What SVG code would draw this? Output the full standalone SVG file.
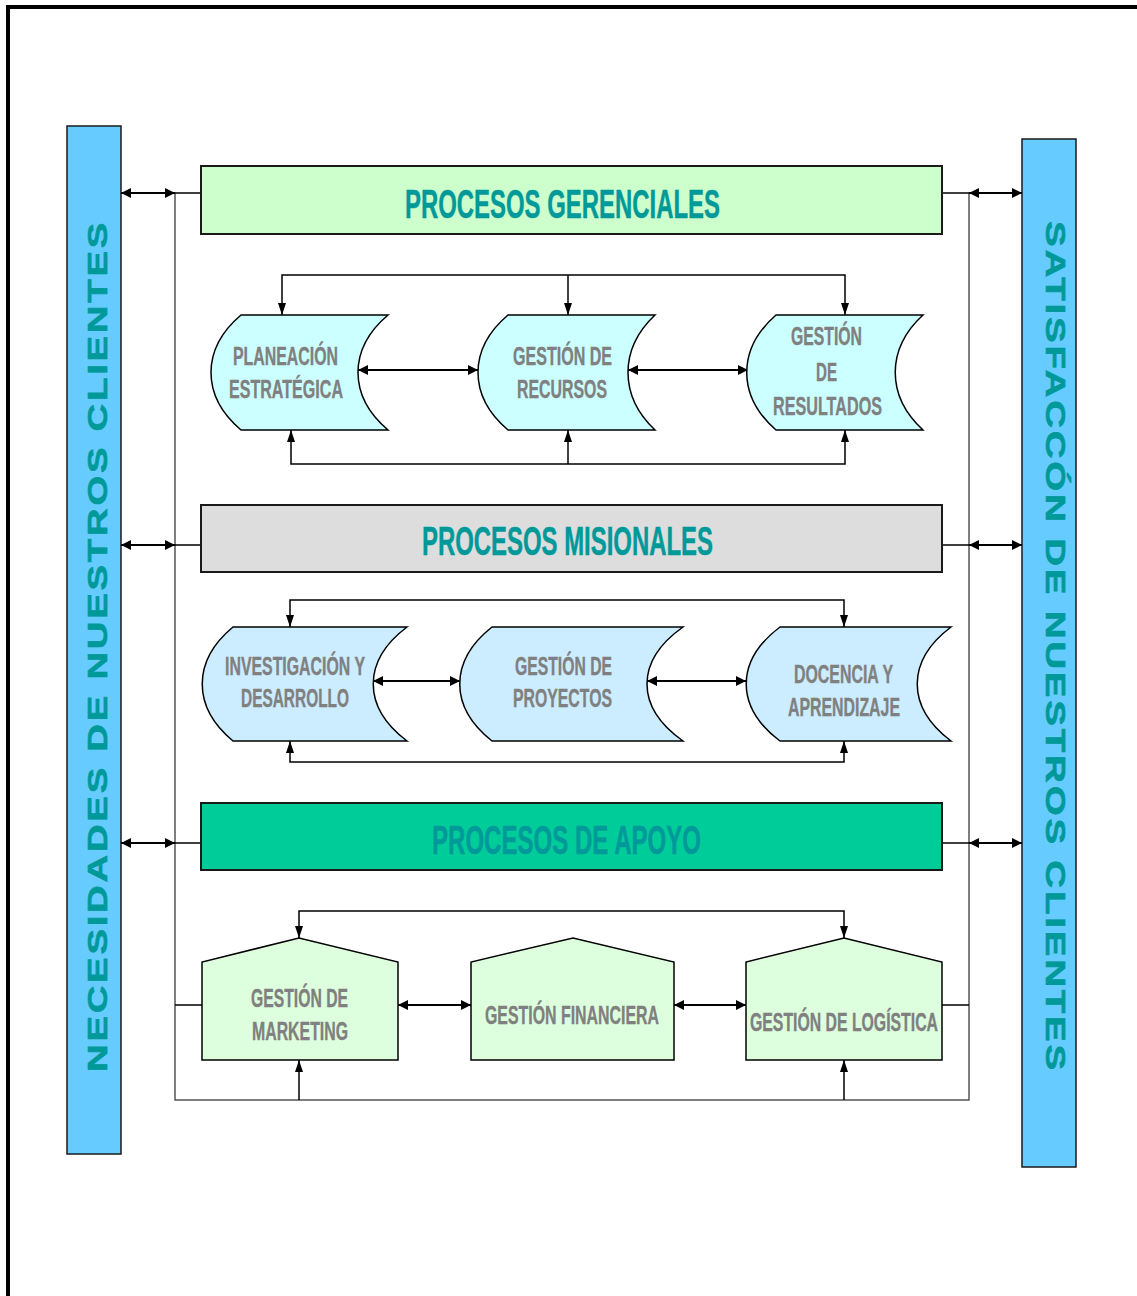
<svg xmlns="http://www.w3.org/2000/svg" width="1137" height="1296" viewBox="0 0 1137 1296">
  <defs>
    <style>
      .frame { fill: none; stroke: #000; stroke-width: 4; }
      .bar { fill: #66CCFF; stroke: #1a1a1a; stroke-width: 1.5; }
      .band { stroke: #1a1a1a; stroke-width: 2; }
      .side { font-family: "Liberation Sans", Arial, sans-serif; font-weight: bold; font-size: 28px; fill: #009999; stroke: #009999; stroke-width: 0.6; letter-spacing: 2px; }
      .title { font-family: "Liberation Sans Narrow", "Liberation Sans", Arial, sans-serif; font-weight: bold; font-size: 41px; fill: #009999; stroke: #009999; stroke-width: 0.5; }
      .lbl { font-family: "Liberation Sans Narrow", "Liberation Sans", Arial, sans-serif; font-weight: bold; font-size: 25px; fill: #808080; stroke: #808080; stroke-width: 0.35; }
      .store { stroke: #000; stroke-width: 1.5; }
      .house { fill: #DDFFDD; stroke: #000; stroke-width: 1.5; }
      .rail { fill: none; stroke: #555; stroke-width: 1.5; }
      .stub { fill: none; stroke: #000; stroke-width: 1.5; }
      .dbl { fill: none; stroke: #000; stroke-width: 2; marker-start: url(#ah); marker-end: url(#ah); }
      .loop { fill: none; stroke: #000; stroke-width: 1.5; marker-start: url(#av); marker-end: url(#av); }
      .one { fill: none; stroke: #000; stroke-width: 1.5; marker-end: url(#av); }
    </style>
    <marker id="ah" viewBox="0 0 10 10" refX="10" refY="5" markerWidth="10" markerHeight="10" markerUnits="userSpaceOnUse" orient="auto-start-reverse">
      <path d="M0,0 L10,5 L0,10 z" fill="#000"/>
    </marker>
    <marker id="av" viewBox="0 0 12 8" refX="12" refY="4" markerWidth="12" markerHeight="8" markerUnits="userSpaceOnUse" orient="auto-start-reverse">
      <path d="M0,0 L12,4 L0,8 z" fill="#000"/>
    </marker>
  </defs>

  <rect width="1137" height="1296" fill="#fff"/>
  <path class="frame" d="M8,1296 V7 H1137"/>

  <!-- side bars -->
  <g id="necesidades">
    <rect class="bar" x="67" y="126" width="54" height="1028"/>
    <text class="side" transform="translate(107,1072) rotate(-90)" x="0" y="0" textLength="852" lengthAdjust="spacingAndGlyphs">NECESIDADES DE NUESTROS CLIENTES</text>
  </g>
  <g id="satisfaccion">
    <rect class="bar" x="1022" y="139" width="54" height="1028"/>
    <text class="side" transform="translate(1046,221) rotate(90)" x="0" y="0" textLength="852" lengthAdjust="spacingAndGlyphs">SATISFACCÓN DE NUESTROS CLIENTES</text>
  </g>

  <!-- connectors -->
  <g id="connectors">
    <path class="rail" d="M175,193 V1100 H969 V193"/>
    <path class="stub" d="M175,193 H201 M175,545 H201 M175,843 H201 M942,193 H969 M942,545 H969 M942,843 H969 M175,1005 H202 M942,1005 H969"/>
    <line class="dbl" x1="121" y1="193" x2="175" y2="193"/>
    <line class="dbl" x1="121" y1="545" x2="175" y2="545"/>
    <line class="dbl" x1="121" y1="843" x2="175" y2="843"/>
    <line class="dbl" x1="969" y1="193" x2="1022" y2="193"/>
    <line class="dbl" x1="969" y1="545" x2="1022" y2="545"/>
    <line class="dbl" x1="969" y1="843" x2="1022" y2="843"/>

    <!-- gerenciales -->
    <polyline class="loop" points="282,315 282,275 845,275 845,315"/>
    <line class="one" x1="568" y1="275" x2="568" y2="315"/>
    <polyline class="loop" points="291,430 291,464 845,464 845,430"/>
    <line class="one" x1="568" y1="464" x2="568" y2="430"/>
    <line class="dbl" x1="358" y1="370" x2="478" y2="370"/>
    <line class="dbl" x1="628" y1="370" x2="748" y2="370"/>

    <!-- misionales -->
    <polyline class="loop" points="290,627 290,600 844,600 844,627"/>
    <polyline class="loop" points="290,741 290,762 844,762 844,741"/>
    <line class="dbl" x1="373" y1="681" x2="460" y2="681"/>
    <line class="dbl" x1="647" y1="681" x2="746" y2="681"/>

    <!-- apoyo -->
    <polyline class="loop" points="299,938 299,911 844,911 844,938"/>
    <line class="one" x1="299" y1="1100" x2="299" y2="1060"/>
    <line class="one" x1="844" y1="1100" x2="844" y2="1060"/>
    <line class="dbl" x1="398" y1="1005" x2="471" y2="1005"/>
    <line class="dbl" x1="674" y1="1005" x2="746" y2="1005"/>
  </g>

  <!-- process bands -->
  <g id="gerenciales">
    <rect class="band" x="201" y="166" width="741" height="68" fill="#CCFFCC"/>
    <text class="title" x="405" y="218" textLength="315" lengthAdjust="spacingAndGlyphs">PROCESOS GERENCIALES</text>
  </g>
  <g id="misionales">
    <rect class="band" x="201" y="505" width="741" height="67" fill="#DDDDDD"/>
    <text class="title" x="422" y="555" textLength="291" lengthAdjust="spacingAndGlyphs">PROCESOS MISIONALES</text>
  </g>
  <g id="apoyo">
    <rect class="band" x="201" y="803" width="741" height="67" fill="#00CC99"/>
    <text class="title" x="432" y="854" textLength="269" lengthAdjust="spacingAndGlyphs">PROCESOS DE APOYO</text>
  </g>

  <!-- management processes -->
  <g id="planeacion">
    <path class="store" fill="#CCFFFF" d="M241,315 H388 C348,349 348,396 388,430 H241 C201,396 201,349 241,315 Z"/>
    <text class="lbl" x="233" y="365" textLength="105" lengthAdjust="spacingAndGlyphs">PLANEACIÓN</text>
    <text class="lbl" x="229" y="398" textLength="114" lengthAdjust="spacingAndGlyphs">ESTRATÉGICA</text>
  </g>
  <g id="recursos">
    <path class="store" fill="#CCFFFF" d="M508,315 H655 C619,349 619,396 655,430 H508 C468,396 468,349 508,315 Z"/>
    <text class="lbl" x="513" y="365" textLength="99" lengthAdjust="spacingAndGlyphs">GESTIÓN DE</text>
    <text class="lbl" x="517" y="398" textLength="90" lengthAdjust="spacingAndGlyphs">RECURSOS</text>
  </g>
  <g id="resultados">
    <path class="store" fill="#CCFFFF" d="M776,315 H923 C886,349 886,396 923,430 H776 C737,396 737,349 776,315 Z"/>
    <text class="lbl" x="791" y="345" textLength="71" lengthAdjust="spacingAndGlyphs">GESTIÓN</text>
    <text class="lbl" x="816" y="381" textLength="21" lengthAdjust="spacingAndGlyphs">DE</text>
    <text class="lbl" x="773" y="415" textLength="109" lengthAdjust="spacingAndGlyphs">RESULTADOS</text>
  </g>

  <!-- mission processes -->
  <g id="investigacion">
    <path class="store" fill="#CCECFF" d="M233,627 H407 C362,661 362,707 407,741 H233 C192,707 192,661 233,627 Z"/>
    <text class="lbl" x="225" y="675" textLength="140" lengthAdjust="spacingAndGlyphs">INVESTIGACIÓN Y</text>
    <text class="lbl" x="241" y="707" textLength="108" lengthAdjust="spacingAndGlyphs">DESARROLLO</text>
  </g>
  <g id="proyectos">
    <path class="store" fill="#CCECFF" d="M492,627 H683 C635,661 635,707 683,741 H492 C449,707 449,661 492,627 Z"/>
    <text class="lbl" x="515" y="675" textLength="97" lengthAdjust="spacingAndGlyphs">GESTIÓN DE</text>
    <text class="lbl" x="513" y="707" textLength="99" lengthAdjust="spacingAndGlyphs">PROYECTOS</text>
  </g>
  <g id="docencia">
    <path class="store" fill="#CCECFF" d="M780,627 H951 C906,661 906,707 951,741 H780 C735,707 735,661 780,627 Z"/>
    <text class="lbl" x="794" y="683" textLength="99" lengthAdjust="spacingAndGlyphs">DOCENCIA Y</text>
    <text class="lbl" x="788" y="716" textLength="112" lengthAdjust="spacingAndGlyphs">APRENDIZAJE</text>
  </g>

  <!-- support processes -->
  <g id="marketing">
    <path class="house" d="M202,1060 V962 L299,938 L398,962 V1060 Z"/>
    <text class="lbl" x="251" y="1007" textLength="97" lengthAdjust="spacingAndGlyphs">GESTIÓN DE</text>
    <text class="lbl" x="252" y="1040" textLength="96" lengthAdjust="spacingAndGlyphs">MARKETING</text>
  </g>
  <g id="financiera">
    <path class="house" d="M471,1060 V962 L573,938 L674,962 V1060 Z"/>
    <text class="lbl" x="485" y="1024" textLength="174" lengthAdjust="spacingAndGlyphs">GESTIÓN FINANCIERA</text>
  </g>
  <g id="logistica">
    <path class="house" d="M746,1060 V962 L844,938 L942,962 V1060 Z"/>
    <text class="lbl" x="750" y="1031" textLength="188" lengthAdjust="spacingAndGlyphs">GESTIÓN DE LOGÍSTICA</text>
  </g>
</svg>
